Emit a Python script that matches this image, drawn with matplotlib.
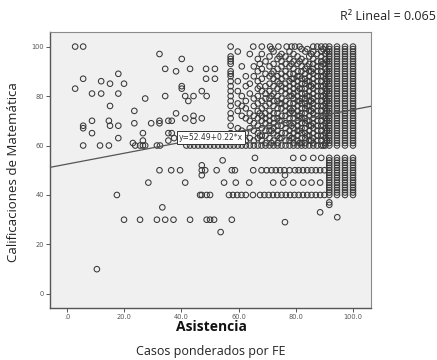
import matplotlib
matplotlib.use("Agg")
import matplotlib.pyplot as plt
import numpy as np

# ---------------- data ----------------
# sparse points (attendance, grade)
sparse_x = [2.8, 5.6, 32.3, 40.1, 34.3, 38.1, 43.0, 48.6, 48.6, 51.7, 51.7, 5.6, 11.9, 15.0,
            17.9, 19.9, 2.8, 8.7, 11.9, 17.9, 27.3, 34.3, 40.1, 40.1, 41.3, 44.2, 42.4, 47.1,
            48.8, 15.0, 23.5, 38.1, 41.3, 44.2, 44.2, 47.1, 5.6, 5.6, 8.7, 14.6, 15.0, 17.9,
            23.5, 29.4, 32.3, 32.3, 35.4, 36.6, 8.7, 17.9, 26.5, 35.4, 36.6, 35.4, 37.4, 23.0,
            26.5, 26.5, 5.6, 11.5, 14.6, 23.8, 25.5, 27.3, 31.4, 32.5,
            32.3, 36.4, 39.5, 47.1, 47.1, 28.4, 41.3, 17.4, 47.1, 48.8, 33.3, 19.9, 25.5,
            31.4, 34.3, 37.2, 43.0, 48.8, 10.4, 53.7, 50.0, 51.4, 57.6, 76.2, 88.5, 91.7,
            91.7, 94.5, 54.4, 65.7, 47.1, 48.3, 52.3, 76.2, 57.2, 57.2, 57.2, 57.2, 57.2,
            57.2, 57.2, 57.2, 57.2, 57.2, 57.2, 57.2, 57.2, 57.2, 57.2, 57.2, 57.2, 57.2]
sparse_y = [100, 100, 97, 95, 91, 90, 91, 91, 87, 91, 87, 87, 86, 85,
            89, 85, 83, 81, 81, 81, 79, 80, 84, 83, 80, 80, 78, 82,
            80, 76, 74, 73, 71, 72, 70, 71, 68, 67, 70, 70, 68, 68,
            69, 69, 70, 69, 70, 70, 65, 63, 65, 65, 65, 62, 63, 61,
            62, 60, 60, 60, 60, 60, 60, 60, 60, 60,
            50, 50, 50, 50, 52, 45, 45, 40, 40, 40, 35, 30, 30,
            30, 30, 30, 30, 30, 10, 25, 30, 30, 30, 29, 33, 37,
            36, 31, 54, 55, 48, 50, 50, 48, 96, 95, 94, 93, 90,
            89, 88, 86, 84, 82, 80, 78, 76, 73, 71, 68, 65, 63]

# horizontal bands (many students with the same grade)
row100_x = [57.2, 65.1, 68.1, 71.0, 73.9, 76.8, 79.7, 86.1, 87.5, 88.9, 90.3]
row60_x = [41.7, 43.0, 44.4, 45.8, 47.2, 48.6, 50.0, 51.4, 52.8, 54.2, 55.6, 57.0, 58.3,
           59.7, 61.1, 62.5, 63.9, 65.3, 66.7, 68.0, 69.4, 70.8, 72.2, 73.6, 75.0, 76.4,
           77.8, 79.2, 80.6, 82.0, 83.3, 84.7, 86.1, 87.5, 88.9, 90.3]
row55_x = [79.1, 82.6, 86.1, 88.9]
row50_x = [57.6, 58.7, 65.1, 68.0, 69.8, 71.5, 73.0, 74.5, 76.0, 77.8, 79.7, 81.0, 82.5,
           84.0, 85.5, 87.0, 88.5, 90.0]
row45_x = [54.9, 59.0, 63.7, 72.1, 75.6, 79.1, 82.6, 85.5, 88.5]
row40_x = [46.5, 50.0, 56.6, 58.0, 59.5, 61.0, 62.5, 65.0, 67.5, 69.0, 70.5, 72.0, 73.5,
           75.0, 76.5, 78.0, 79.5, 81.0, 82.5, 84.0, 85.5, 87.0, 88.5, 90.0]

# cloud between 58 and 91 attendance, grades 61-99 (one list per attendance value)
cloud_x = [59.7, 61.1, 62.5, 63.9, 65.3, 66.7, 68.1, 69.4, 70.8, 72.2, 73.6, 75.0, 76.4,
           77.8, 79.2, 80.6, 82.0, 83.3, 84.7, 86.1, 87.5, 88.9, 90.3]
cloud_y = [
    [98, 86, 82, 77, 74, 67, 63],
    [92, 80, 76, 72, 66, 64],
    [88, 84, 78, 75, 71, 65, 62],
    [97, 85, 81, 73, 70, 67, 63],
    [92, 88, 79, 76, 72, 69, 66, 62],
    [95, 90, 86, 83, 80, 77, 74, 71, 68, 65, 63],
    [97, 91, 87, 82, 78, 75, 72, 70, 67, 64, 62],
    [94, 89, 84, 81, 79, 76, 73, 71, 69, 66, 64, 61],
    [96, 92, 88, 85, 82, 79, 77, 74, 72, 70, 68, 66, 63],
    [98, 93, 90, 87, 84, 81, 78, 76, 73, 71, 69, 67, 65, 62],
    [95, 91, 88, 86, 83, 80, 78, 75, 73, 71, 68, 66, 64, 61],
    [97, 94, 92, 89, 87, 84, 82, 79, 77, 75, 72, 70, 68, 65, 63],
    [96, 93, 90, 88, 85, 83, 81, 78, 76, 74, 72, 69, 67, 65, 62],
    [98, 95, 92, 89, 86, 84, 82, 80, 77, 75, 73, 71, 69, 66, 64, 62],
    [97, 94, 91, 89, 87, 85, 83, 81, 79, 77, 75, 73, 71, 69, 67, 65, 63, 61],
    [96, 93, 90, 88, 86, 84, 82, 80, 78, 76, 74, 72, 70, 68, 66, 64, 62],
    [99, 95, 92, 90, 87, 85, 83, 81, 79, 77, 75, 73, 71, 69, 67, 65, 63, 61],
    [98, 94, 91, 89, 87, 85, 83, 81, 79, 77, 75, 73, 71, 69, 67, 65, 63, 61],
    [96, 93, 90, 88, 86, 84, 82, 80, 78, 76, 74, 72, 70, 68, 66, 64, 62],
    [98, 95, 93, 91, 89, 87, 85, 83, 81, 79, 77, 75, 73, 71, 69, 67, 65, 63, 61],
    [97, 94, 92, 90, 88, 86, 84, 82, 80, 78, 76, 74, 72, 70, 68, 66, 64, 62],
    [98, 96, 94, 92, 90, 88, 86, 84, 82, 80, 78, 76, 74, 72, 70, 68, 66, 64, 62],
    [97, 95, 93, 91, 89, 87, 85, 83, 81, 79, 77, 75, 73, 71, 69, 67, 65, 63, 61],
]

# second, less regular layer of the cloud (denser toward high attendance)
cloud2_x = [67.4, 71.5, 74.3, 78.5, 81.3, 84.0, 85.4, 89.6, 90.9]
cloud2_y = [
    [93, 84, 73, 64],
    [99, 89, 80, 66, 61],
    [96, 85, 77, 70, 63],
    [100, 93, 87, 80, 74, 68, 63],
    [100, 94, 88, 83, 78, 72, 66, 61],
    [99, 92, 86, 80, 76, 70, 64],
    [97, 90, 84, 78, 74, 68, 62],
    [99, 93, 88, 84, 80, 76, 72, 68, 64, 60],
    [98, 94, 90, 86, 82, 78, 74, 70, 66, 62],
]

# fully packed columns at the highest attendance values
full_cols_x = [91.7, 94.4, 97.2, 100.0]
full_col_y = [100, 99, 98, 97, 96, 95, 94, 93, 92, 91, 90, 89, 88, 87, 86, 85, 84, 83, 82,
              81, 80, 79, 78, 77, 76, 75, 74, 73, 72, 71, 70, 69, 68, 67, 66, 65, 64, 63,
              62, 61, 60, 55, 54, 53, 52, 51, 50, 49, 48, 47, 46, 45, 44, 43, 42, 41, 40]

# regression
intercept = 52.49
slope = 0.22
r2 = 0.065

x_ticks = [0, 20, 40, 60, 80, 100]
x_tick_labels = [".0", "20.0", "40.0", "60.0", "80.0", "100.0"]
y_ticks = [0, 20, 40, 60, 80, 100]
y_tick_labels = ["0", "20", "40", "60", "80", "100"]

# ---------------- assemble ----------------
xs, ys = list(sparse_x), list(sparse_y)
for grade, row in [(100, row100_x), (60, row60_x), (55, row55_x), (50, row50_x),
                   (45, row45_x), (40, row40_x)]:
    for xv in row:
        xs.append(xv); ys.append(grade)
for xv, col in list(zip(cloud_x, cloud_y)) + list(zip(cloud2_x, cloud2_y)):
    for yv in col:
        xs.append(xv); ys.append(yv)
for xv in full_cols_x:
    for yv in full_col_y:
        xs.append(xv); ys.append(yv)

# ---------------- figure ----------------
W, H = 437, 360
fig = plt.figure(figsize=(W / 100, H / 100), dpi=100)
fig.patch.set_facecolor("white")
ax = fig.add_axes([50 / W, (H - 308) / H, 321 / W, 276 / H])
ax.set_facecolor("#f0f0f0")

ax.scatter(xs, ys, s=16, facecolors="none", edgecolors="#383838", linewidths=0.75, zorder=3)

xlim = (-6.0, 106.3)
ylim = (-5.7, 105.9)
ax.set_xlim(*xlim)
ax.set_ylim(*ylim)

lx = np.array(xlim)
ax.plot(lx, intercept + slope * lx, color="#555555", lw=0.9, zorder=4)

ax.text(50.3, 63.4, f"y={intercept:.2f}+{slope:.2f}*x", fontsize=5.5, ha="center", va="center",
        family="DejaVu Sans", color="#333333", zorder=6,
        bbox=dict(boxstyle="square,pad=0.25", facecolor="white", edgecolor="#333333", lw=0.7))

ax.set_xticks(x_ticks)
ax.set_xticklabels(x_tick_labels)
ax.set_yticks(y_ticks)
ax.set_yticklabels(y_tick_labels)
ax.tick_params(axis="both", labelsize=4.8, colors="#555555", length=3, width=0.7, pad=1.5)

for side in ["left", "bottom"]:
    ax.spines[side].set_color("#555555")
    ax.spines[side].set_linewidth(1.0)
for side in ["top", "right"]:
    ax.spines[side].set_color("#8a8a8a")
    ax.spines[side].set_linewidth(0.8)

fam = ["Open Sans", "DejaVu Sans"]
fig.text(436 / W, 1 - 16 / H, f"R\u00b2 Lineal = {r2:.3f}", ha="right", va="center",
         fontsize=9, family=fam, color="#222222")
fig.text(14 / W, 1 - 172 / H, "Calificaciones de Matemática", rotation=90, ha="center",
         va="center", fontsize=9.5, family=fam, color="#222222")
fig.text(211 / W, 1 - 327 / H, "Asistencia", ha="center", va="center", fontsize=10,
         fontweight="bold", family=fam, color="#111111")
fig.text(211 / W, 1 - 351 / H, "Casos ponderados por FE", ha="center", va="center",
         fontsize=9, family=fam, color="#222222")

fig.savefig("out.png", dpi=100)
